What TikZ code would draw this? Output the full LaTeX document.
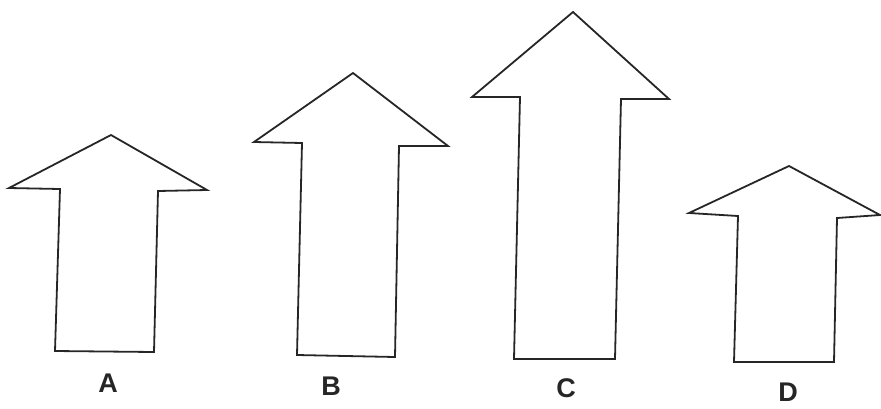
\documentclass[tikz,border=0pt]{standalone}
\usepackage{fontspec}
\setsansfont{Liberation Sans}
\usepackage{tikz}

\begin{document}
\begin{tikzpicture}[
    x=1pt, y=-1pt,
    uparrow/.style={draw=black!85, line width=1.8pt, line join=miter},
    letter/.style={font=\sffamily\bfseries\fontsize{27}{27}\selectfont,
                   text=black!85, inner sep=0pt},
  ]

  \useasboundingbox (0,0) rectangle (881,408);

  % Arrow A
  \draw[uparrow] (111,135) -- (207,190) -- (158,191) -- (154,352)
    -- (55,351) -- (60,189) -- (9,188) -- cycle;
  \node[letter] (labA) at (108,383) {A};

  % Arrow B
  \draw[uparrow] (353,73) -- (448,146) -- (399,146) -- (395,357)
    -- (297,355) -- (302,143) -- (254,142) -- cycle;
  \node[letter] (labB) at (331,386) {B};

  % Arrow C
  \draw[uparrow] (573,12) -- (669,99) -- (621,99) -- (615,359)
    -- (514,359) -- (520,97) -- (472,97) -- cycle;
  \node[letter] (labC) at (566,388) {C};

  % Arrow D
  \draw[uparrow] (789,166) -- (880,215) -- (837,218) -- (834,362)
    -- (734,362) -- (738,216) -- (689,213) -- cycle;
  \node[letter] (labD) at (788,392) {D};

\end{tikzpicture}
\end{document}
